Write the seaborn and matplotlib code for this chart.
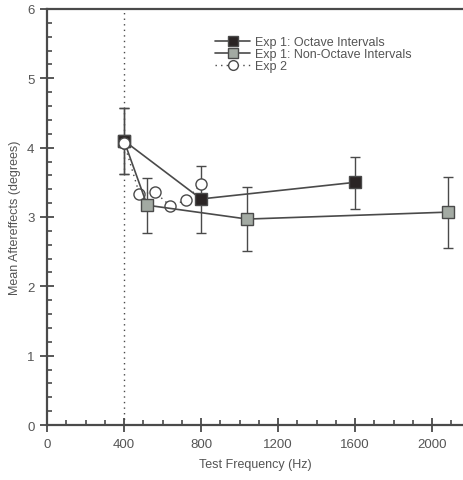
import matplotlib
matplotlib.use("Agg")
import matplotlib.pyplot as plt
import seaborn as sns
import pandas as pd
from matplotlib.lines import Line2D
from matplotlib.ticker import MultipleLocator

# Data
oct_freq = [400, 800, 1600]
oct_mean = [4.10, 3.26, 3.50]
oct_lo = [3.62, 2.77, 3.12]
oct_hi = [4.57, 3.74, 3.87]

non_freq = [400, 520, 1040, 2080]
non_mean = [4.10, 3.17, 2.97, 3.07]
non_lo = [3.62, 2.77, 2.51, 2.55]
non_hi = [4.57, 3.56, 3.43, 3.58]

exp2_freq = [400, 480, 560, 640, 720, 800]
exp2_mean = [4.07, 3.33, 3.36, 3.16, 3.24, 3.47]

labels = ["Exp 1: Octave Intervals", "Exp 1: Non-Octave Intervals", "Exp 2"]

sns.set_style("ticks")
plt.rcParams['font.family'] = ['Liberation Sans', 'DejaVu Sans']
txt = "#555555"
lc = "#4a4a4a"

fig = plt.figure(figsize=(4.63, 4.81), dpi=100)
ax = fig.add_axes([0.1015, 0.1143, 0.8985, 0.865])

# vertical dotted reference
ax.axvline(400, color=lc, ls=(0, (1, 3)), lw=1.0, zorder=1)

df_oct = pd.DataFrame({"f": oct_freq, "m": oct_mean})
df_non = pd.DataFrame({"f": non_freq, "m": non_mean})
df_e2 = pd.DataFrame({"f": exp2_freq, "m": exp2_mean})

# error bars
ax.errorbar(non_freq, non_mean,
            yerr=[[m - l for m, l in zip(non_mean, non_lo)], [h - m for m, h in zip(non_mean, non_hi)]],
            fmt='none', ecolor=lc, elinewidth=1.0, capsize=3.5, capthick=1.0, zorder=2)
ax.errorbar(oct_freq, oct_mean,
            yerr=[[m - l for m, l in zip(oct_mean, oct_lo)], [h - m for m, h in zip(oct_mean, oct_hi)]],
            fmt='none', ecolor=lc, elinewidth=1.0, capsize=3.5, capthick=1.0, zorder=2)

sns.lineplot(data=df_e2, x="f", y="m", ax=ax, sort=False, color=lc, lw=1.0,
             linestyle=(0, (1, 3)), marker="o", markersize=8, markerfacecolor="white",
             markeredgecolor=lc, markeredgewidth=1.0, zorder=3)
sns.lineplot(data=df_non, x="f", y="m", ax=ax, sort=False, color=lc, lw=1.2,
             marker="s", markersize=8.5, markerfacecolor="#a3aaa3",
             markeredgecolor=lc, markeredgewidth=1.0, zorder=4)
sns.lineplot(data=df_oct, x="f", y="m", ax=ax, sort=False, color=lc, lw=1.2,
             marker="s", markersize=8.5, markerfacecolor="#2a2424",
             markeredgecolor=lc, markeredgewidth=1.0, zorder=5)
# re-draw exp2 circle at 400 on top
ax.plot(exp2_freq[:1], exp2_mean[:1], ls='none', marker='o', ms=8, mfc='white', mec=lc, mew=1.0, zorder=6)

ax.set_xlim(0, 2160)
ax.set_ylim(0, 6)
ax.xaxis.set_major_locator(MultipleLocator(400))
ax.xaxis.set_minor_locator(MultipleLocator(100))
ax.yaxis.set_major_locator(MultipleLocator(1))
ax.yaxis.set_minor_locator(MultipleLocator(0.2))
ax.tick_params(which='major', direction='inout', length=10, width=1.3, color=lc, labelcolor=txt, labelsize=9.5, pad=4)
ax.tick_params(which='minor', direction='in', length=3.5, width=1.2, color=lc)

for s in ['left', 'bottom', 'top']:
    ax.spines[s].set_color(lc)
    ax.spines[s].set_linewidth(1.6)
ax.spines['right'].set_visible(False)

ax.set_xlabel("Test Frequency (Hz)", color=txt, fontsize=9, labelpad=6)
ax.set_ylabel("Mean Aftereffects (degrees)", color=txt, fontsize=9, labelpad=4)

handles = [
    Line2D([], [], color=lc, lw=1.2, marker='s', ms=7, mfc="#2a2424", mec=lc),
    Line2D([], [], color=lc, lw=1.2, marker='s', ms=7, mfc="#a3aaa3", mec=lc),
    Line2D([], [], color=lc, lw=1.0, ls=(0, (1, 3)), marker='o', ms=7, mfc="white", mec=lc),
]
leg = ax.legend(handles, labels, loc='upper left', bbox_to_anchor=(0.404, 0.934), frameon=False,
                fontsize=9, handlelength=2.8, handletextpad=0.4, labelspacing=0.0, borderpad=0,
                borderaxespad=0)
for t in leg.get_texts():
    t.set_color(txt)

fig.savefig("out.png", dpi=100)
